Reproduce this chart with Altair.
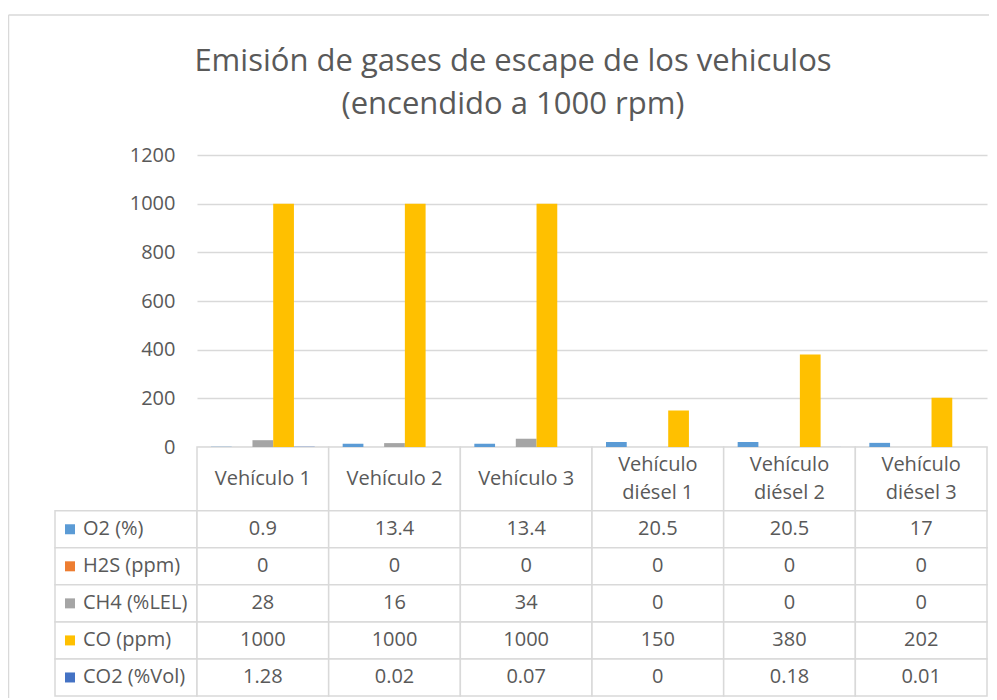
import altair as alt
import pandas as pd

# ---------------- data ----------------
vehicles = ["Vehículo 1", "Vehículo 2", "Vehículo 3",
            "Vehículo diésel 1", "Vehículo diésel 2", "Vehículo diésel 3"]
header_labels = ["Vehículo 1", "Vehículo 2", "Vehículo 3",
                 "Vehículo\ndiésel 1", "Vehículo\ndiésel 2", "Vehículo\ndiésel 3"]
series = ["O2 (%)", "H2S (ppm)", "CH4 (%LEL)", "CO (ppm)", "CO2 (%Vol)"]
o2 = [0.9, 13.4, 13.4, 20.5, 20.5, 17]
h2s = [0, 0, 0, 0, 0, 0]
ch4 = [28, 16, 34, 0, 0, 0]
co = [1000, 1000, 1000, 150, 380, 202]
co2 = [1.28, 0.02, 0.07, 0, 0.18, 0.01]
colors = ["#5B9BD5", "#ED7D31", "#A5A5A5", "#FFC000", "#4472C4"]
y_ticks = [0, 200, 400, 600, 800, 1000, 1200]
title_lines = ["Emisión de gases de escape de los vehiculos", "(encendido a 1000 rpm)"]

# ---------------- layout constants ----------------
FONT = "Open Sans"
TXT = "#595959"
GRID = "#d9d9d9"
W = 790
PLOT_H = 292
ROW_PX = 37
LINE_PX = 28
HEADER_UNITS = 1.72
TABLE_UNITS = HEADER_UNITS + len(series)
H = PLOT_H + int(round(TABLE_UNITS * ROW_PX))
COL_PX = W / len(vehicles)
LEG_LEFT = -142 / COL_PX
LEG_SQ_X = -127 / COL_PX
LEG_TXT_X = -114 / COL_PX

values_by_series = [o2, h2s, ch4, co, co2]

rows = []
for r, (s, vals) in enumerate(zip(series, values_by_series)):
    for c, (v, val) in enumerate(zip(vehicles, vals)):
        rows.append({"series": s, "vehicle": v, "value": val,
                     "xc": c + 0.5, "yc": HEADER_UNITS + r + 0.5,
                     "label": str(val)})
df = pd.DataFrame(rows)

cells = []
for c in range(len(vehicles)):
    cells.append({"x0": c, "x1": c + 1, "y0": 0, "y1": HEADER_UNITS})
for r in range(len(series)):
    cells.append({"x0": LEG_LEFT, "x1": 0, "y0": HEADER_UNITS + r, "y1": HEADER_UNITS + r + 1})
    for c in range(len(vehicles)):
        cells.append({"x0": c, "x1": c + 1, "y0": HEADER_UNITS + r, "y1": HEADER_UNITS + r + 1})
cells_df = pd.DataFrame(cells)

header_df = pd.DataFrame({
    "xc": [c + 0.5 for c in range(len(vehicles))],
    "yc": [HEADER_UNITS / 2 - lab.count("\n") * (LINE_PX / ROW_PX) / 2 for lab in header_labels],
    "label": header_labels,
})
legend_df = pd.DataFrame({"series": series,
                          "xs": [LEG_SQ_X] * len(series),
                          "xt": [LEG_TXT_X] * len(series),
                          "yc": [HEADER_UNITS + r + 0.5 for r in range(len(series))]})


def xq():
    return alt.Scale(domain=[0, len(vehicles)], nice=False, zero=False)


def yt():
    return alt.Scale(domain=[0, TABLE_UNITS], range=[PLOT_H, H], nice=False, zero=False)


color_scale = alt.Scale(domain=series, range=colors)

bars = alt.Chart(df).mark_bar().encode(
    x=alt.X("vehicle:N", sort=vehicles, axis=None,
            scale=alt.Scale(paddingInner=0.2126, paddingOuter=0.1063)),
    xOffset=alt.XOffset("series:N", sort=series,
                        scale=alt.Scale(paddingInner=0, paddingOuter=0)),
    y=alt.Y("value:Q",
            scale=alt.Scale(domain=[0, 1200], range=[PLOT_H, 0], nice=False),
            axis=alt.Axis(values=y_ticks, format="d", title=None, domain=False, ticks=False,
                          labelPadding=22, grid=True, gridColor=GRID, gridWidth=1.5,
                          labelFont=FONT, labelFontSize=20, labelColor=TXT)),
    color=alt.Color("series:N", sort=series, scale=color_scale, legend=None),
)

grid_cells = alt.Chart(cells_df).mark_rect(fill="white", stroke=GRID, strokeWidth=1.5).encode(
    x=alt.X("x0:Q", scale=xq(), axis=None), x2="x1",
    y=alt.Y("y0:Q", scale=yt(), axis=None), y2="y1",
)

header = alt.Chart(header_df).mark_text(
    font=FONT, fontSize=20, color=TXT, lineBreak="\n", lineHeight=LINE_PX, baseline="middle"
).encode(
    x=alt.X("xc:Q", scale=xq(), axis=None),
    y=alt.Y("yc:Q", scale=yt(), axis=None),
    text="label:N",
)

values = alt.Chart(df).mark_text(
    font=FONT, fontSize=20, color=TXT, baseline="middle"
).encode(
    x=alt.X("xc:Q", scale=xq(), axis=None),
    y=alt.Y("yc:Q", scale=yt(), axis=None),
    text="label:N",
)

leg_sq = alt.Chart(legend_df).mark_point(shape="square", filled=True, size=100, opacity=1).encode(
    x=alt.X("xs:Q", scale=xq(), axis=None),
    y=alt.Y("yc:Q", scale=yt(), axis=None),
    color=alt.Color("series:N", sort=series, scale=color_scale, legend=None),
)

leg_txt = alt.Chart(legend_df).mark_text(
    font=FONT, fontSize=20, color=TXT, baseline="middle", align="left"
).encode(
    x=alt.X("xt:Q", scale=xq(), axis=None),
    y=alt.Y("yc:Q", scale=yt(), axis=None),
    text="series:N",
)

# chart-area frame (decoration, like the Excel chart border)
frame_df = pd.DataFrame({"k": [0]})
frame_top = alt.Chart(frame_df).mark_rule(color=GRID, strokeWidth=1.5).encode(
    x=alt.value(-188.5), x2=alt.value(W + 20), y=alt.value(-140)
)
frame_left = alt.Chart(frame_df).mark_rule(color=GRID, strokeWidth=1.5).encode(
    x=alt.value(-188.5), y=alt.value(-140), y2=alt.value(H + 20)
)

chart = alt.layer(frame_top, frame_left, grid_cells, bars, header, values, leg_sq, leg_txt).resolve_scale(
    x="independent", y="independent"
).properties(
    width=W, height=H,
    title=alt.TitleParams(title_lines, font=FONT, fontSize=31, fontWeight="normal",
                          color=TXT, lineHeight=43, anchor="middle", dx=-79, offset=-107),
    autosize=alt.AutoSizeParams(type="none"),
    padding={"left": 189, "top": 147, "right": 2, "bottom": 2},
).configure_view(stroke=None)

chart.save("out.html", embed_options={"renderer": "svg", "actions": False})
